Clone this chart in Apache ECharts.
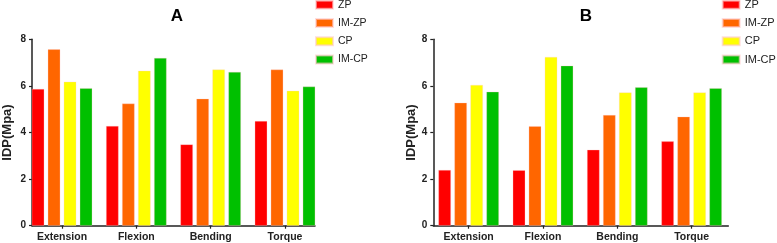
<!DOCTYPE html>
<html>
<head>
<meta charset="utf-8">
<script src="https://cdn.jsdelivr.net/npm/echarts@6/dist/echarts.min.js"></script>
<style>
  html, body { margin: 0; padding: 0; background: #fff; }
  #chart { width: 777px; height: 243px; }
</style>
</head>
<body>
<div id="chart"></div>
<script>
// categories and groups
var categories = ['Extension', 'Flexion', 'Bending', 'Torque'];
var groupNames = ['ZP', 'IM-ZP', 'CP', 'IM-CP'];
var groupColors = ['#ff0000', '#ff6600', '#ffff00', '#00c000'];

// panel A values (MPa)
var aZP   = [5.87, 4.28, 3.49, 4.49];
var aIMZP = [7.57, 5.24, 5.45, 6.70];
var aCP   = [6.18, 6.65, 6.70, 5.79];
var aIMCP = [5.90, 7.20, 6.60, 5.97];

// panel B values (MPa)
var bZP   = [2.39, 2.38, 3.26, 3.62];
var bIMZP = [5.28, 4.27, 4.75, 4.68];
var bCP   = [6.04, 7.24, 5.72, 5.72];
var bIMCP = [5.75, 6.87, 5.94, 5.90];

// y axis ticks
var yMin = 0, yMax = 8, yStep = 2;

var font = 'Liberation Sans, Arial, sans-serif';
var ink = '#222';

var chart = echarts.init(document.getElementById('chart'));

function axesGrid(left, width) {
    return { left: left, width: width, top: 39.3, bottom: 17.3 };
}

// two grids per panel: one carries the axis lines, the other the bars
var grids = [
    axesGrid(31, 284),      // A axes
    axesGrid(24.85, 297.3), // A bars
    axesGrid(433.3, 295),   // B axes
    axesGrid(431.5, 297.3)  // B bars
];

var xAxes = [], yAxes = [];
[0, 2].forEach(function (g, i) {
    xAxes.push({
        gridIndex: g, type: 'category', data: categories,
        axisLine: { lineStyle: { color: ink, width: 1.5 } },
        axisTick: { show: false }, axisLabel: { show: false }
    });
    xAxes.push({
        gridIndex: g + 1, type: 'category', data: categories,
        axisLine: { show: false },
        axisTick: { show: true, alignWithLabel: true, length: 3, lineStyle: { color: ink, width: 1.2 } },
        axisLabel: { color: ink, fontFamily: font, fontWeight: 'bold', fontSize: 10.5, margin: 6 }
    });
    yAxes.push({
        gridIndex: g, type: 'value', min: yMin, max: yMax, interval: yStep,
        name: 'IDP(Mpa)', nameLocation: 'middle', nameGap: i === 0 ? 18 : 14,
        nameTextStyle: { color: ink, fontFamily: font, fontWeight: 'bold', fontSize: 13 },
        axisLine: { show: true, lineStyle: { color: ink, width: 1.5 } },
        axisTick: { show: true, length: 3, lineStyle: { color: ink, width: 1.2 } },
        axisLabel: { color: ink, fontFamily: font, fontWeight: 'bold', fontSize: 10, margin: 6 },
        splitLine: { show: false }
    });
    yAxes.push({
        gridIndex: g + 1, type: 'value', min: yMin, max: yMax, interval: yStep, show: false
    });
});

function makeSeries(values, axisIdx) {
    return values.map(function (vals, k) {
        return {
            name: groupNames[k], type: 'bar',
            xAxisIndex: axisIdx, yAxisIndex: axisIdx,
            data: vals, barWidth: 12.5, barGap: '28%',
            itemStyle: { color: groupColors[k], borderColor: 'rgba(255,200,200,0.6)', borderWidth: 0.5 }
        };
    });
}

var series = makeSeries([aZP, aIMZP, aCP, aIMCP], 1)
    .concat(makeSeries([bZP, bIMZP, bCP, bIMCP], 3));

function makeLegend(left, size) {
    return {
        data: groupNames, orient: 'vertical', left: left, top: -1.3, padding: 0,
        icon: 'rect', itemWidth: 17, itemHeight: 8, itemGap: 6.3,
        textStyle: { color: ink, fontFamily: font, fontSize: size, lineHeight: 12 },
        selectedMode: false
    };
}

var option = {
    animation: false,
    color: groupColors,
    title: [
        { text: 'A', left: 172, top: 3, textAlign: 'center',
          textStyle: { color: '#000', fontFamily: font, fontWeight: 'bold', fontSize: 17 } },
        { text: 'B', left: 581, top: 3, textAlign: 'center',
          textStyle: { color: '#000', fontFamily: font, fontWeight: 'bold', fontSize: 17 } }
    ],
    legend: [makeLegend(315, 10.5), makeLegend(721.7, 11)],
    grid: grids,
    xAxis: xAxes,
    yAxis: yAxes,
    series: series
};

chart.setOption(option);
</script>
</body>
</html>
